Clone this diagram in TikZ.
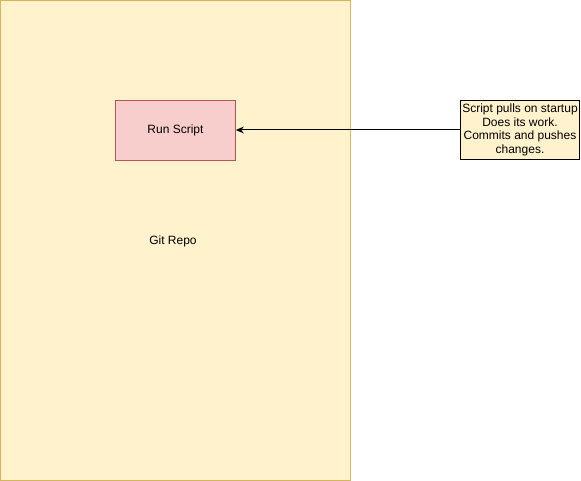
\documentclass[tikz,border=0pt]{standalone}
\usepackage{fontspec}
\setmainfont{Liberation Sans}
\usetikzlibrary{arrows.meta}
\definecolor{yfill}{HTML}{FFF2CC}
\definecolor{ydraw}{HTML}{D6B656}
\definecolor{rfill}{HTML}{F8CECC}
\definecolor{rdraw}{HTML}{B85450}
\begin{document}
\begin{tikzpicture}[x=1pt,y=-1pt,
  container/.style={draw=ydraw,fill=yfill,line width=0.8pt},
  procbox/.style={draw=rdraw,fill=rfill,line width=0.8pt,minimum width=120pt,minimum height=60pt,inner sep=0pt,font=\fontsize{12}{14}\selectfont},
  notebox/.style={draw=black,fill=yfill,line width=0.8pt,minimum width=119pt,minimum height=59pt,inner sep=0pt,align=center,font=\fontsize{12}{13.5}\selectfont},
  lbl/.style={font=\fontsize{12}{14}\selectfont,inner sep=0pt},
  conn/.style={draw=black,line width=1pt,-{Stealth[length=8pt,width=7pt]}}]
\useasboundingbox (0,0) rectangle (581,481);
\path[container] (0.5,0.5) rectangle (350,480.5);
\node[lbl] (git) at (173,241) {Git Repo};
\node[procbox] (run) at (175.5,130) {Run Script};
\node[notebox] (note) at (520,130) {Script pulls on startup\\Does its work.\\Commits and pushes\\changes.};
\draw[conn] (note.west) -- (run.east);
\end{tikzpicture}
\end{document}
